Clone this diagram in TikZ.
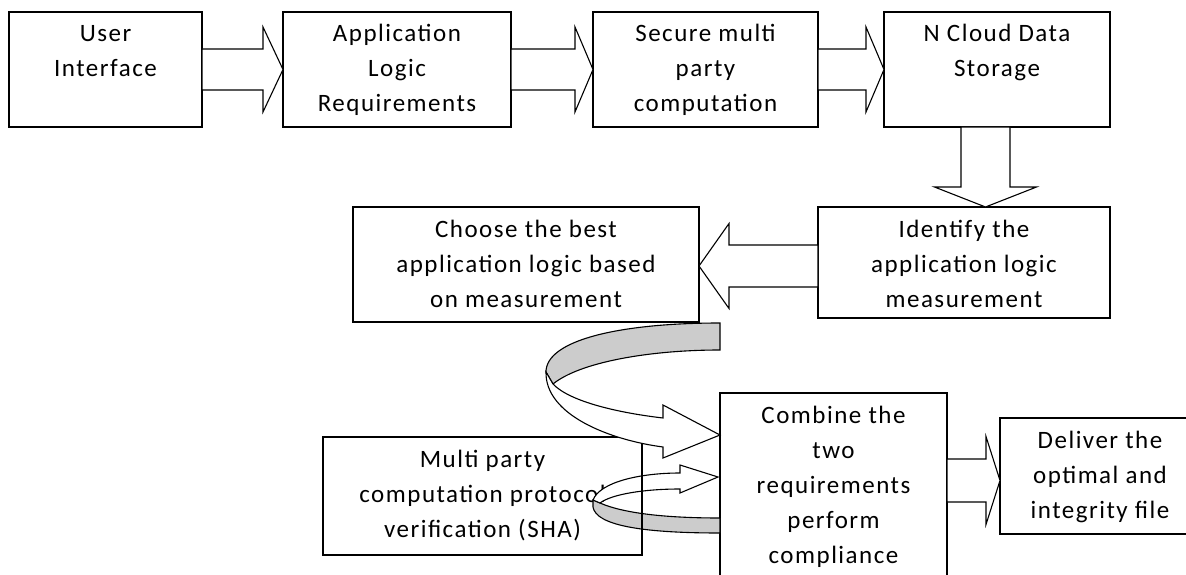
\documentclass[tikz,border=0pt]{standalone}
\usepackage{fontspec}
\setmainfont{Carlito}[LetterSpace=6]
\usetikzlibrary{calc}

\tikzset{
  outline/.style={draw=black, line width=1.1pt, line join=miter},
  box/.style={outline, fill=white, inner sep=0pt, outer sep=0pt,
    anchor=north west, font=\fontsize{25}{35}\selectfont},
  blk/.style={outline, fill=white},
  band/.style={outline, fill=black!20},
}

% text block of a box: top aligned, centred lines
\newcommand\boxbody[3]{\parbox[c][#2pt][t]{#1pt}{\centering\rule{0pt}{30pt}#3}}
% \flowbox{name}{left}{top}{width}{height}{text}
\newcommand\flowbox[6]{\node[box] (#1) at (#2,#3) {\boxbody{#4}{#5}{#6}};}

% horizontal block arrow: from, to, shaft half, head half, head length (signed)
\newcommand\hblock[5]{%
  \draw[blk] let \p1=(#1), \p2=(#2) in
    ({\x1},{\y1+#3}) -- ({\x2-(#5)},{\y1+#3}) -- ({\x2-(#5)},{\y1+#4}) -- ({\x2},{\y1})
    -- ({\x2-(#5)},{\y1-#4}) -- ({\x2-(#5)},{\y1-#3}) -- ({\x1},{\y1-#3}) -- cycle;}
% downward block arrow: from, to, shaft half, head half, head length
\newcommand\vblock[5]{%
  \draw[blk] let \p1=(#1), \p2=(#2) in
    ({\x1+#3},{\y1}) -- ({\x1+#3},{\y2+#5}) -- ({\x1+#4},{\y2+#5}) -- ({\x1},{\y2})
    -- ({\x1-#4},{\y2+#5}) -- ({\x1-#3},{\y2+#5}) -- ({\x1-#3},{\y1}) -- cycle;}

\begin{document}
\begin{tikzpicture}[x=1pt, y=-1pt]
\useasboundingbox (0,0) rectangle (1186,575);
\clip (0,0) rectangle (1186,575);
\fill[white] (0,0) rectangle (1186,575);

% top row
\flowbox{ui}{9}{12}{193}{115}{User\\Interface}
\flowbox{alr}{283}{12}{228}{115}{Application\\Logic\\Requirements}
\flowbox{smpc}{593}{12}{225}{115}{Secure multi\\party\\computation}
\flowbox{store}{884}{12}{226}{115}{N Cloud Data\\Storage}

% middle row
\flowbox{ident}{818}{207}{292}{111}{Identify the\\application logic\\measurement}
\flowbox{choose}{353}{207}{346}{115}{Choose the best\\application logic based\\on measurement}

% bottom row
\flowbox{verify}{323}{437}{319}{118}{Multi party\\computation protocol\\verification (SHA)}
\flowbox{combine}{720}{393}{227}{207}{Combine the\\two\\requirements\\perform\\compliance}
\flowbox{deliver}{1000}{418}{200}{116}{Deliver the\\optimal and\\integrity file}

% block arrows
\hblock{ui.east}{alr.west}{20.5pt}{42.5pt}{20pt}
\hblock{alr.east}{smpc.west}{20.5pt}{42.5pt}{18pt}
\hblock{smpc.east}{store.west}{20.5pt}{42.5pt}{18pt}
\vblock{$(store.south)+(-11.5,0)$}{ident.north}{24.5pt}{51pt}{20pt}
\hblock{$(ident.west)+(0,3.5)$}{choose.east}{21pt}{42.5pt}{-30pt}
\hblock{$(combine.east |- deliver.west)+(0,4.5)$}{deliver.west}{21.5pt}{44pt}{14pt}

% twisted ribbon arrow: choose -> combine
\draw[band] (720,323) .. controls (620,323) and (546,340) .. (546,372)
  -- (553,384) .. controls (580,362) and (650,350) .. (720,350) -- cycle;
\draw[blk] (546,372) .. controls (545,415) and (610,440) .. (663,447)
  -- (663,458) -- (720,435) -- (663,405) -- (663,418)
  .. controls (620,413) and (570,402) .. (553,384) -- cycle;

% twisted ribbon arrow: verify -> combine
\draw[band] (600,503) .. controls (625,514) and (670,518) .. (720,518)
  -- (720,533) .. controls (640,533) and (596,525) .. (593,507)
  -- (593,500) -- cycle;
\draw[blk] (593,500) .. controls (600,482) and (640,473) .. (680,473)
  -- (680,465) -- (718,477) -- (680,493) -- (680,489)
  .. controls (645,489) and (612,494) .. (600,503) -- cycle;

% right edge of the verification box shows through the ribbon
\draw[outline] ($(verify.north east)+(0,10)$) -- (verify.south east);
\end{tikzpicture}
\end{document}
